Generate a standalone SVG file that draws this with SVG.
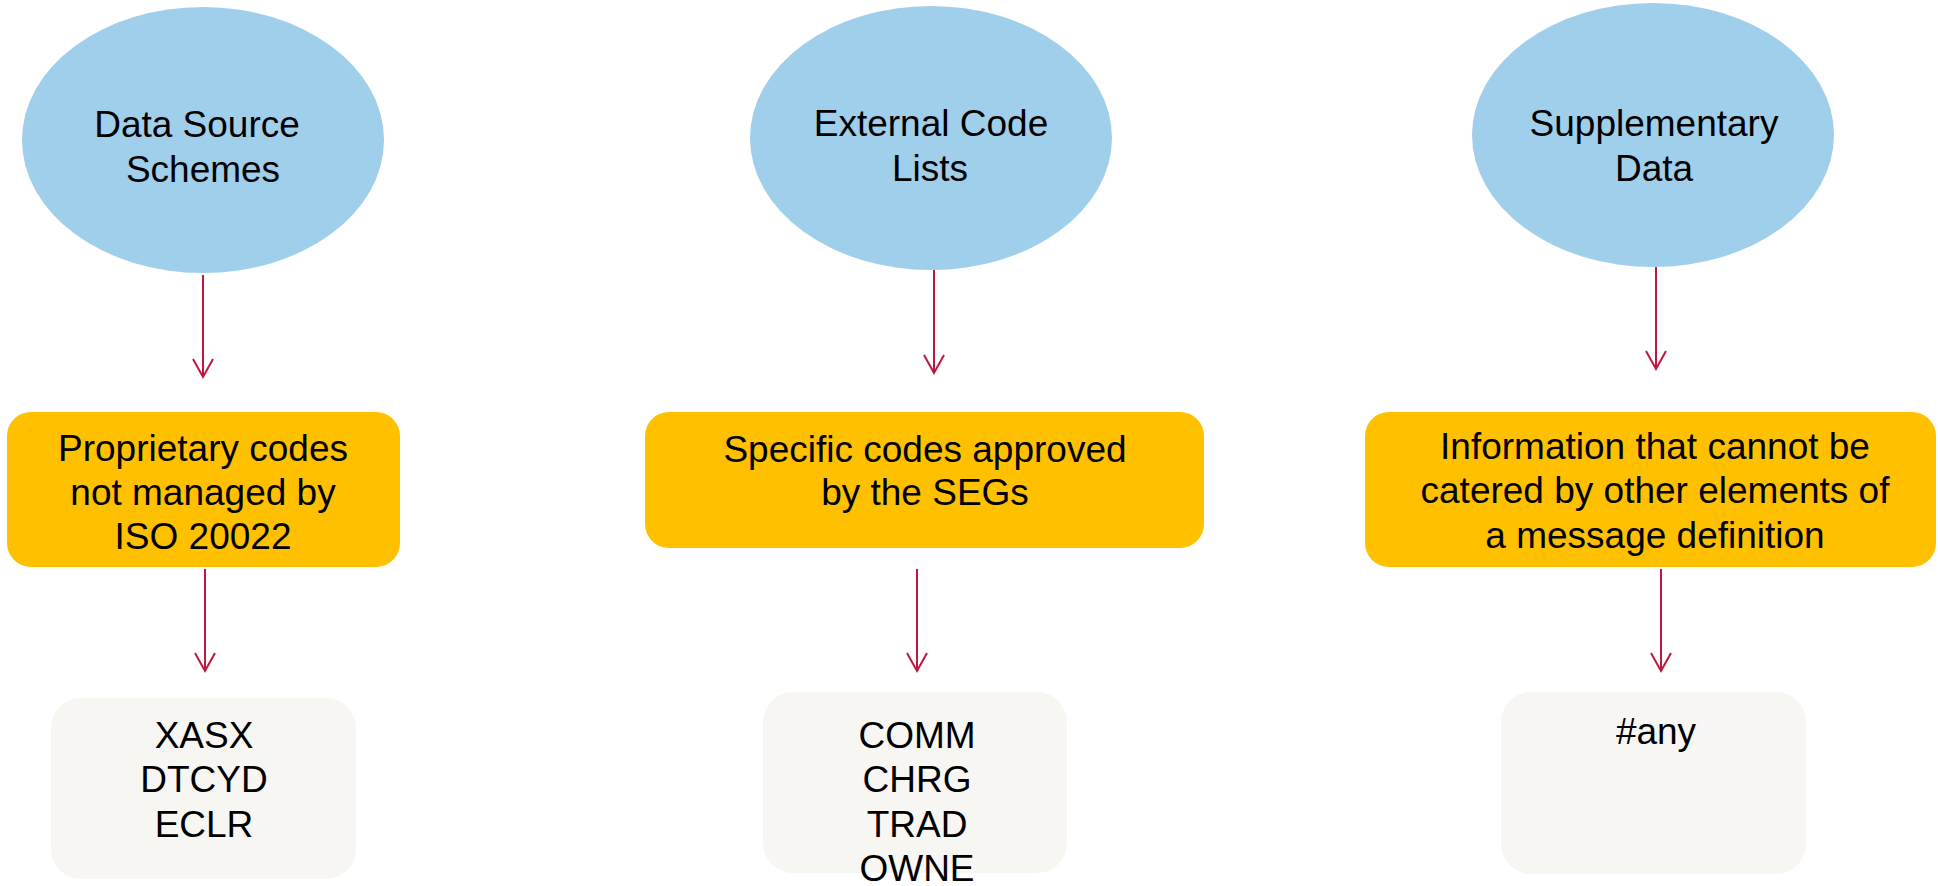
<svg xmlns="http://www.w3.org/2000/svg" width="1938" height="886" viewBox="0 0 1938 886">
<defs>
<style>
.ell{fill:#A0CFEB;}
.org{fill:#FFC000;}
.gry{fill:#F7F6F2;}
text{font-family:"Liberation Sans",Arial,sans-serif;font-size:37px;fill:#000;text-anchor:middle;}
.conn{stroke:#C0163F;stroke-width:2;fill:none;}
</style>
<marker id="arr" markerUnits="userSpaceOnUse" markerWidth="22" markerHeight="22" refX="19" refY="11" orient="auto" viewBox="0 0 22 22">
<path d="M1,1 L19,11 L1,21" fill="none" stroke="#C0163F" stroke-width="2"/>
</marker>
</defs>
<rect width="1938" height="886" fill="#FFFFFF"/>
<g id="ellipse-data-source">
<ellipse class="ell" cx="203" cy="140" rx="181" ry="133"/>
<text x="197" y="137">Data Source</text>
<text x="203" y="182">Schemes</text>
</g>
<g id="ellipse-external-code">
<ellipse class="ell" cx="931" cy="138" rx="181" ry="132"/>
<text x="931" y="136">External Code</text>
<text x="930" y="181">Lists</text>
</g>
<g id="ellipse-supplementary">
<ellipse class="ell" cx="1653" cy="135" rx="181" ry="132"/>
<text x="1654" y="136">Supplementary</text>
<text x="1654" y="181">Data</text>
</g>
<g id="box-proprietary">
<rect class="org" x="7" y="412" width="393" height="155" rx="24"/>
<text x="203" y="461">Proprietary codes</text>
<text x="203" y="505">not managed by</text>
<text x="203" y="549">ISO 20022</text>
</g>
<g id="box-specific">
<rect class="org" x="645" y="412" width="559" height="136" rx="24"/>
<text x="925" y="462">Specific codes approved</text>
<text x="925" y="505">by the SEGs</text>
</g>
<g id="box-information">
<rect class="org" x="1365" y="412" width="571" height="155" rx="24"/>
<text x="1655" y="459">Information that cannot be</text>
<text x="1655" y="503">catered by other elements of</text>
<text x="1655" y="548">a message definition</text>
</g>
<g id="box-codes-1">
<rect class="gry" x="51" y="698" width="305" height="181" rx="30"/>
<text x="204" y="748">XASX</text>
<text x="204" y="792">DTCYD</text>
<text x="204" y="837">ECLR</text>
</g>
<g id="box-codes-2">
<rect class="gry" x="763" y="692" width="304" height="181" rx="30"/>
<text x="917" y="748">COMM</text>
<text x="917" y="792">CHRG</text>
<text x="917" y="837">TRAD</text>
<text x="917" y="881">OWNE</text>
</g>
<g id="box-any">
<rect class="gry" x="1501" y="692" width="305" height="182" rx="30"/>
<text x="1656" y="744">#any</text>
</g>
<g id="connectors">
<line class="conn" x1="203" y1="275" x2="203" y2="377" marker-end="url(#arr)"/>
<line class="conn" x1="205" y1="569" x2="205" y2="671" marker-end="url(#arr)"/>
<line class="conn" x1="934" y1="270" x2="934" y2="373" marker-end="url(#arr)"/>
<line class="conn" x1="917" y1="569" x2="917" y2="671" marker-end="url(#arr)"/>
<line class="conn" x1="1656" y1="267" x2="1656" y2="369" marker-end="url(#arr)"/>
<line class="conn" x1="1661" y1="569" x2="1661" y2="671" marker-end="url(#arr)"/>
</g>
</svg>
